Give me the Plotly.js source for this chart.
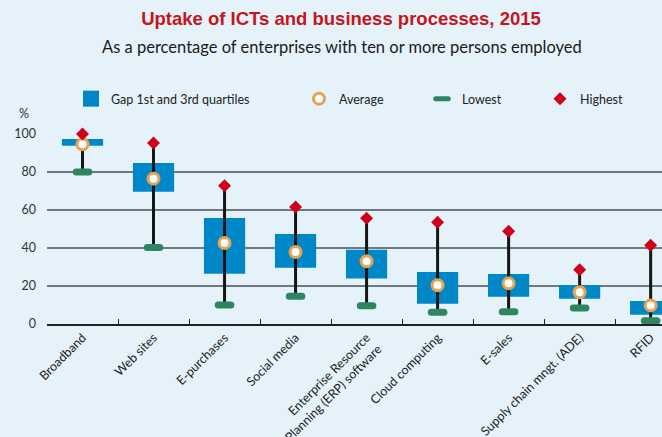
<!DOCTYPE html>
<html>
<head>
<meta charset="utf-8">
<script src="https://cdn.plot.ly/plotly-3.0.1.min.js"></script>
<style>
html,body{margin:0;padding:0;background:#e5f2f9;}
.point,.scatterpts{stroke-linecap:round;}
</style>
</head>
<body>
<div id="chart" style="width:662px;height:437px;"></div>
<script>
var categories = ["Broadband", "Web sites", "E-purchases", "Social media",
  "Enterprise Resource<br>Planning (ERP) software", "Cloud computing", "E-sales",
  "Supply chain mngt. (ADE)", "RFID"];
var q1      = [93.8, 69.6, 26.5, 29.6, 23.9, 10.7, 14.4, 13.3, 4.9];
var q3      = [97.4, 84.7, 55.8, 47.4, 39.1, 27.4, 26.3, 20.5, 12.1];
var average = [94.6, 76.5, 42.6, 37.9, 33.0, 20.4, 21.4, 16.7, 9.8];
var lowest  = [80.0, 40.2, 10.0, 14.6, 9.6, 6.2, 6.5, 8.4, 1.7];
var highest = [100.0, 95.3, 72.8, 61.6, 55.6, 53.5, 48.8, 28.6, 41.4];
var yTicks  = [0, 20, 40, 60, 80, 100];

var blue = '#0087c8', red = '#d0021b', green = '#2e8560', orange = '#e6a24e';

var gap = q3.map(function(v, i){ return v - q1[i]; });
var wx = [], wy = [];
categories.forEach(function(c, i){ wx.push(c, c, null); wy.push(lowest[i], highest[i], null); });

var traces = [
  {type:'bar', x:categories, y:gap, base:q1, width:0.58, marker:{color:blue},
   showlegend:false, hoverinfo:'skip'},
  {type:'scatter', mode:'lines', x:wx, y:wy, line:{color:'#151515', width:3},
   showlegend:false, hoverinfo:'skip', cliponaxis:false},
  {type:'scatter', mode:'markers', x:[null], y:[null], name:'Gap 1st and 3rd quartiles',
   marker:{symbol:'square', size:17, color:blue}, legend:'legend'},
  {type:'scatter', mode:'markers', x:categories, y:lowest, name:'Lowest', cliponaxis:false,
   marker:{symbol:'line-ew', size:9, line:{color:green, width:7}}, legend:'legend3'},
  {type:'scatter', mode:'markers', x:categories, y:average, name:'Average', cliponaxis:false,
   marker:{symbol:'circle', size:11, color:'#ffffff', line:{color:orange, width:3}}, legend:'legend2'},
  {type:'scatter', mode:'markers', x:categories, y:highest, name:'Highest', cliponaxis:false,
   marker:{symbol:'diamond', size:10, color:red}, legend:'legend4'}
];

var W = 615, H = 190, L = 47, T = 134;
function px(x){ return (x - L) / W; }
function py(y){ return (T + H - y) / H; }
var legBase = {orientation:'h', xanchor:'left', yanchor:'middle', bgcolor:'rgba(0,0,0,0)',
  font:{family:'Lato, sans-serif', size:12.5, color:'#222'}};
function leg(x){ return Object.assign({}, legBase, {x:px(x), y:py(99)}); }

var layout = {
  width:662, height:437,
  margin:{l:L, r:0, t:T, b:437-T-H},
  paper_bgcolor:'#e5f2f9', plot_bgcolor:'#e5f2f9',
  font:{family:'Lato, sans-serif', color:'#222'},
  title:{text:'Uptake of ICTs and business processes, 2015', x:341/662, xanchor:'center',
    y:1-19/437, yanchor:'middle', xref:'container', yref:'container',
    font:{family:'Liberation Sans, Arial, sans-serif', size:18.5, color:'#c4161c', weight:'bold'}},
  annotations:[
    {text:'As a percentage of enterprises with ten or more persons employed', xref:'paper', yref:'paper',
     x:px(342), y:py(47), xanchor:'center', yanchor:'middle', showarrow:false,
     font:{family:'Lato, sans-serif', size:16.5, color:'#1a1a1a'}},
    {text:'%', xref:'paper', yref:'paper', x:px(24), y:py(113), xanchor:'center', yanchor:'middle',
     showarrow:false, font:{family:'Lato, sans-serif', size:12.5, color:'#333'}}
  ],
  bargap:0.42,
  xaxis:{type:'category', range:[-0.5, 8.16], tickangle:-45, tickson:'boundaries',
    ticks:'inside', ticklen:5, tickcolor:'#222', tickwidth:1, showline:true, linecolor:'#222', linewidth:1.5,
    showgrid:false, zeroline:false, tickfont:{family:'Lato, sans-serif', size:12.5, color:'#222'}},
  yaxis:{range:[0,100], tickvals:yTicks, ticktext:yTicks.map(String), showgrid:true,
    gridcolor:'#6f787e', gridwidth:1.5, zeroline:false, showline:false, ticks:'',
    ticklabelstandoff:10, tickfont:{family:'Lato, sans-serif', size:12.5, color:'#333'}},
  legend:leg(71),
  legend2:leg(299),
  legend3:leg(422),
  legend4:leg(540),
  showlegend:true
};
Plotly.newPlot('chart', traces, layout, {displayModeBar:false, staticPlot:true});
</script>
</body>
</html>
